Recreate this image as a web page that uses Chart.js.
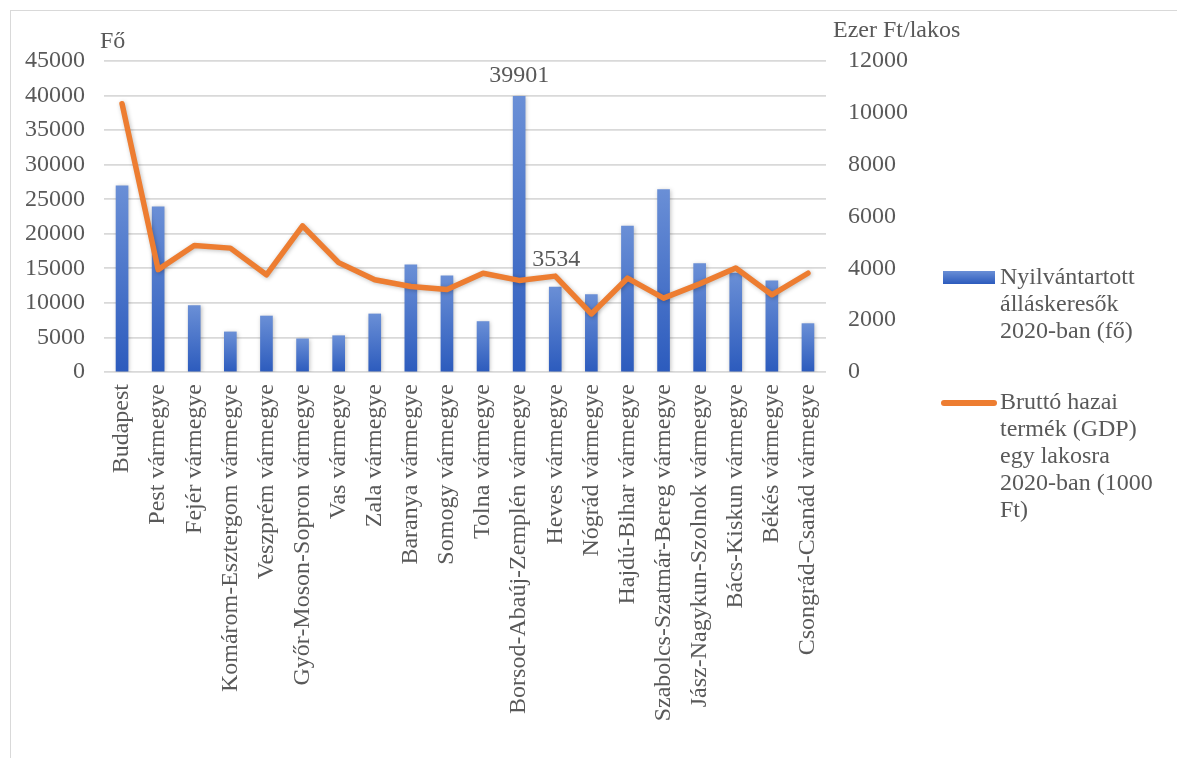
<!DOCTYPE html>
<html>
<head>
<meta charset="utf-8">
<script src="https://cdn.jsdelivr.net/npm/chart.js@4"></script>
<style>
    html, body { margin: 0; padding: 0; background: #ffffff; }
    #wrap { position: relative; width: 1177px; height: 758px; overflow: hidden; }
    #frame { position: absolute; left: 10px; top: 10px; width: 1300px; height: 900px; border-left: 1.5px solid #d9d9d9; border-top: 1.5px solid #d9d9d9; }
    #chart { position: absolute; left: 0; top: 0; }
    .legend { position: absolute; left: 1000px; font-family: "Liberation Serif", "Times New Roman", serif; font-size: 24px; line-height: 27px; color: #595959; }
    .swatch { position: absolute; }
</style>
</head>
<body>
<div id="wrap">
    <div id="frame"></div>
    <canvas id="chart" width="1177" height="758"></canvas>
    <div class="swatch" style="left:943px; top:271px; width:52px; height:13px; background:linear-gradient(#6a8fd6,#2c5bbd);"></div>
    <div class="legend" id="leg0" style="top:263px;"></div>
    <div class="swatch" style="left:941px; top:400px; width:56px; height:6px; border-radius:3px; background:#ed7d31;"></div>
    <div class="legend" id="leg1" style="top:388px;"></div>
</div>
<script>
const counties = [
    "Budapest", "Pest vármegye", "Fejér vármegye", "Komárom-Esztergom vármegye",
    "Veszprém vármegye", "Győr-Moson-Sopron vármegye", "Vas vármegye", "Zala vármegye",
    "Baranya vármegye", "Somogy vármegye", "Tolna vármegye", "Borsod-Abaúj-Zemplén vármegye",
    "Heves vármegye", "Nógrád vármegye", "Hajdú-Bihar vármegye", "Szabolcs-Szatmár-Bereg vármegye",
    "Jász-Nagykun-Szolnok vármegye", "Bács-Kiskun vármegye", "Békés vármegye", "Csongrád-Csanád vármegye"
];

// álláskeresők (fő)
const jobSeekers = [
    26950, 23900, 9600, 5800, 8100, 4800, 5250, 8400, 15500, 13900,
    7300, 39901, 12300, 11200, 21100, 26400, 15700, 14300, 13200, 7000
];

// GDP / lakos (ezer Ft)
const gdpPerCapita = [
    10350, 3950, 4880, 4780, 3750, 5640, 4220, 3560, 3300, 3180,
    3810, 3534, 3700, 2240, 3620, 2850, 3400, 4010, 2980, 3810
];

const leftTicks = [0, 5000, 10000, 15000, 20000, 25000, 30000, 35000, 40000, 45000];
const rightTicks = [0, 2000, 4000, 6000, 8000, 10000, 12000];

const legendLines = [
    ["Nyilvántartott", "álláskeresők", "2020-ban (fő)"],
    ["Bruttó hazai", "termék (GDP)", "egy lakosra", "2020-ban (1000", "Ft)"]
];

const labelIndex = 11; // Borsod: címkézett pont
const textColor = "#595959";
const fontFamily = "'Liberation Serif', 'Times New Roman', serif";

document.getElementById("leg0").innerHTML = legendLines[0].join("<br>");
document.getElementById("leg1").innerHTML = legendLines[1].join("<br>");

const barFill = (ctx) => {
    const chart = ctx.chart;
    const area = chart.chartArea;
    if (!area || ctx.raw === undefined) return "#4472c4";
    const top = chart.scales.y.getPixelForValue(ctx.raw);
    const g = chart.ctx.createLinearGradient(0, top, 0, area.bottom);
    g.addColorStop(0, "#6a8fd6");
    g.addColorStop(1, "#2c5bbd");
    return g;
};

// halvány árnyék a sorozatok alatt, mint az Excelben
const softShadow = {
    id: "softShadow",
    beforeDatasetDraw(chart) {
        const c = chart.ctx;
        c.save();
        c.shadowColor = "rgba(0,0,0,0.25)";
        c.shadowBlur = 4;
        c.shadowOffsetX = 1;
        c.shadowOffsetY = 1;
    },
    afterDatasetDraw(chart) {
        chart.ctx.restore();
    }
};

const extraText = {
    id: "extraText",
    afterDatasetsDraw(chart) {
        const c = chart.ctx;
        const area = chart.chartArea;
        c.save();
        c.fillStyle = textColor;
        c.font = "24px " + fontFamily;
        c.textBaseline = "alphabetic";
        // axis titles
        c.textAlign = "left";
        c.fillText("Fő", area.left - 4, area.top - 13);
        c.fillText("Ezer Ft/lakos", area.right + 7, area.top - 24);
        // data labels
        const bar = chart.getDatasetMeta(0).data[labelIndex];
        c.textAlign = "center";
        c.fillText(String(jobSeekers[labelIndex]), bar.x, bar.y - 14);
        const pt = chart.getDatasetMeta(1).data[labelIndex];
        c.fillText(String(gdpPerCapita[labelIndex]), pt.x + 37, pt.y - 14);
        c.restore();
    }
};

new Chart(document.getElementById("chart"), {
    type: "bar",
    data: {
        labels: counties,
        datasets: [
            {
                type: "bar",
                label: legendLines[0].join(" "),
                data: jobSeekers,
                backgroundColor: barFill,
                barThickness: 12,
                yAxisID: "y",
                order: 2
            },
            {
                type: "line",
                label: legendLines[1].join(" "),
                data: gdpPerCapita,
                borderColor: "#ed7d31",
                borderWidth: 5.5,
                borderJoinStyle: "round",
                borderCapStyle: "round",
                pointRadius: 0,
                tension: 0,
                fill: false,
                yAxisID: "y1",
                order: 1
            }
        ]
    },
    options: {
        responsive: false,
        animation: false,
        layout: { padding: { top: 61, left: 0, right: 231, bottom: 0 } },
        plugins: {
            legend: { display: false },
            tooltip: { enabled: false }
        },
        scales: {
            x: {
                grid: { display: false, drawTicks: false },
                border: { display: false },
                ticks: {
                    color: textColor,
                    minRotation: 90,
                    maxRotation: 90,
                    autoSkip: false,
                    padding: 12,
                    font: { family: fontFamily, size: 24 }
                },
                afterFit: (s) => { s.height = 386; }
            },
            y: {
                position: "left",
                min: 0,
                max: 45000,
                afterBuildTicks: (s) => { s.ticks = leftTicks.map(v => ({ value: v })); },
                grid: { color: "#d9d9d9", lineWidth: 1.8, drawTicks: false },
                border: { display: false },
                ticks: {
                    color: textColor,
                    padding: 19,
                    font: { family: fontFamily, size: 24 },
                    callback: (v) => String(v)
                },
                afterFit: (s) => { s.width = 104; }
            },
            y1: {
                position: "right",
                min: 0,
                max: 12000,
                afterBuildTicks: (s) => { s.ticks = rightTicks.map(v => ({ value: v })); },
                grid: { display: false, drawTicks: false },
                border: { display: false },
                ticks: {
                    color: textColor,
                    padding: 22,
                    font: { family: fontFamily, size: 24 },
                    callback: (v) => String(v)
                },
                afterFit: (s) => { s.width = 120; }
            }
        }
    },
    plugins: [softShadow, extraText]
});
</script>
</body>
</html>
